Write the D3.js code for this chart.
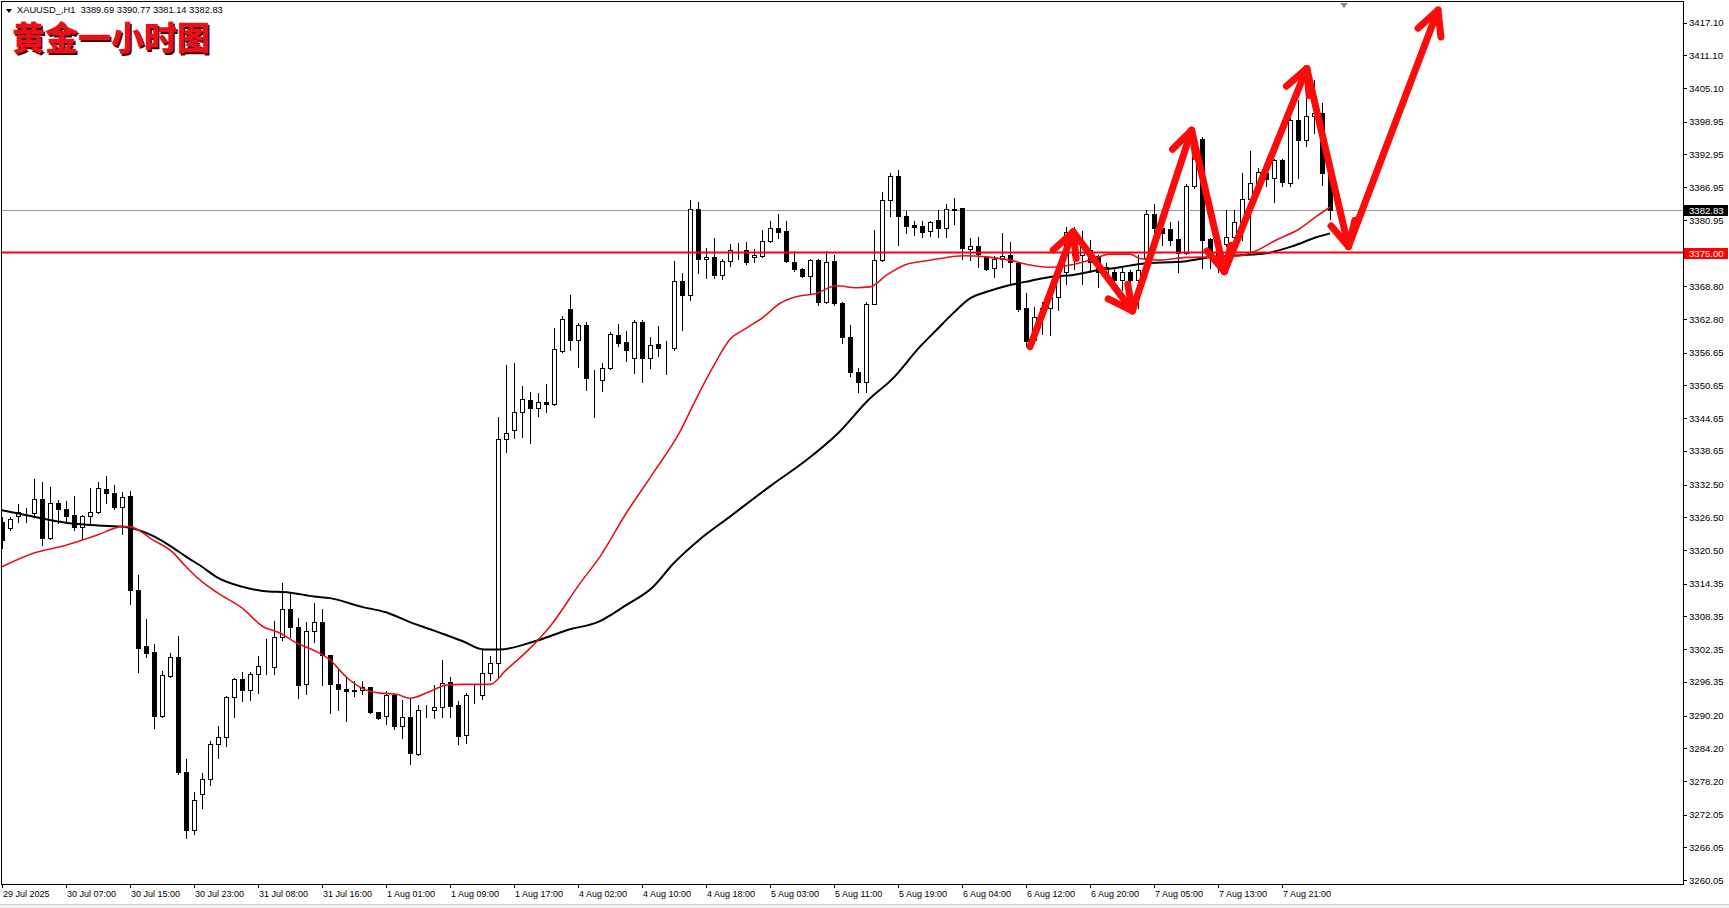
<!DOCTYPE html>
<html><head><meta charset="utf-8">
<script src="https://cdn.jsdelivr.net/npm/d3@7"></script>
<style>body{margin:0;background:#fff;overflow:hidden}svg{display:block}</style>
</head><body>
<svg id="c" width="1729" height="908"></svg>
<script>
// ---------------- DATA ----------------
const candleOpen = [3325.7,3324.6,3326.8,3327.4,3327.2,3329.8,3322.8,3329.1,3328.0,3326.9,
3324.8,3326.8,3327.5,3331.6,3331.0,3328.4,3330.4,3313.2,3302.9,3301.8,
3290.2,3297.5,3300.9,3279.9,3269.2,3275.9,3278.5,3285.0,3286.2,3293.5,
3296.9,3294.8,3297.8,3299.2,3299.0,3304.5,3309.7,3306.4,3295.9,3305.7,
3307.3,3301.2,3295.9,3295.1,3294.7,3294.9,3295.4,3290.8,3290.1,3294.0,
3288.3,3290.0,3283.1,3291.5,3291.3,3291.8,3296.3,3292.1,3286.6,3294.0,
3294.0,3297.9,3299.8,3340.8,3342.4,3345.7,3348.0,3346.5,3347.6,3347.2,
3357.0,3364.6,3358.9,3361.8,3351.8,3351.7,3353.9,3359.9,3358.6,3355.6,
3362.2,3355.6,3358.2,3357.5,3357.5,3369.8,3367.2,3382.9,3373.8,3374.1,
3370.8,3373.4,3375.4,3375.5,3374.1,3374.4,3377.1,3379.4,3378.9,3373.2,
3372.0,3370.7,3373.6,3366.0,3373.4,3365.8,3359.5,3353.1,3351.2,3365.6,
3373.6,3384.7,3389.0,3381.7,3380.0,3379.9,3378.9,3381.0,3379.4,3383.0,
3383.1,3375.7,3376.1,3374.1,3372.1,3373.9,3374.6,3373.1,3364.8,3358.9,
3363.3,3364.8,3366.9,3371.5,3378.6,3374.5,3375.5,3374.4,3371.5,3371.5,
3370.0,3371.5,3370.0,3374.0,3382.0,3379.4,3379.3,3377.5,3375.0,3387.2,
3395.8,3377.5,3375.0,3376.6,3377.8,3380.5,3384.8,3387.7,3389.5,3388.6,
3391.9,3387.8,3399.3,3395.6,3400.0,3400.5,3389.69];
const candleHigh = [3326.5,3326.6,3328.9,3328.2,3333.5,3332.9,3332.0,3329.7,3329.4,3330.4,
3326.9,3331.8,3332.9,3334.1,3332.4,3331.1,3331.4,3315.9,3307.9,3303.3,
3298.4,3301.6,3304.8,3282.2,3276.1,3279.6,3285.5,3288.3,3293.8,3297.0,
3298.1,3298.2,3301.1,3304.2,3307.5,3314.4,3312.7,3308.0,3307.4,3310.8,
3309.7,3301.3,3298.6,3297.4,3296.5,3296.5,3295.5,3290.9,3294.6,3294.2,
3293.1,3293.2,3292.1,3292.1,3295.8,3300.3,3297.2,3292.9,3294.3,3296.0,
3302.5,3301.1,3344.9,3354.4,3354.7,3350.6,3349.4,3349.2,3351.0,3361.1,
3363.4,3367.2,3362.0,3362.2,3353.5,3354.8,3360.5,3361.9,3360.6,3362.6,
3362.6,3359.6,3361.5,3358.7,3373.4,3371.2,3384.7,3384.3,3375.8,3377.6,
3373.8,3376.5,3376.8,3377.0,3375.6,3379.2,3380.8,3382.1,3380.8,3375.3,
3372.1,3373.8,3373.8,3375.3,3374.5,3366.0,3361.7,3353.8,3366.0,3379.2,
3386.0,3389.6,3390.1,3382.6,3380.8,3380.8,3380.8,3382.8,3383.9,3384.9,
3383.2,3377.7,3377.9,3374.2,3374.4,3378.5,3377.0,3373.3,3367.5,3365.0,
3366.0,3368.1,3372.4,3379.7,3379.6,3378.9,3377.3,3374.6,3373.1,3372.4,
3372.4,3371.8,3374.5,3382.8,3383.9,3380.3,3380.5,3380.8,3387.5,3397.0,
3396.1,3377.6,3376.0,3382.8,3382.8,3389.5,3393.5,3390.4,3392.2,3392.2,
3392.1,3399.6,3402.9,3408.5,3406.6,3402.3,3390.77];
const candleLow = [3320.8,3324.2,3325.7,3325.7,3326.9,3321.5,3322.6,3325.4,3325.4,3324.2,
3322.6,3325.1,3327.3,3329.1,3328.1,3323.4,3310.6,3298.1,3300.9,3288.0,
3289.9,3297.3,3279.5,3267.7,3268.5,3273.3,3277.4,3282.5,3284.7,3289.9,
3292.9,3293.0,3294.3,3297.8,3297.8,3304.0,3304.6,3293.4,3294.1,3303.6,
3295.8,3290.7,3291.2,3289.2,3293.7,3294.1,3290.6,3289.5,3288.7,3287.7,
3286.0,3281.3,3282.9,3290.0,3289.7,3290.0,3290.0,3284.9,3285.1,3292.4,
3293.2,3296.7,3297.3,3338.5,3341.1,3341.3,3340.2,3345.1,3345.7,3347.0,
3356.8,3357.1,3354.1,3349.9,3344.8,3349.7,3353.6,3357.9,3355.2,3353.0,
3351.2,3353.8,3356.0,3352.7,3357.1,3360.8,3366.3,3371.2,3370.3,3370.3,
3370.2,3372.5,3373.8,3372.9,3373.3,3374.2,3377.0,3377.6,3373.3,3371.6,
3370.5,3367.5,3365.3,3365.8,3365.4,3358.4,3352.3,3349.5,3349.4,3365.5,
3373.5,3381.6,3376.4,3378.5,3378.2,3377.8,3378.0,3377.8,3377.9,3380.3,
3373.9,3373.6,3372.4,3371.8,3370.5,3372.4,3369.1,3364.2,3357.8,3358.5,
3360.0,3359.9,3364.5,3369.3,3372.0,3369.3,3371.5,3368.7,3370.2,3368.7,
3368.1,3366.0,3364.8,3371.5,3376.4,3376.4,3376.4,3371.5,3374.8,3386.8,
3372.1,3372.1,3371.5,3376.1,3376.0,3377.3,3374.7,3387.1,3387.1,3384.3,
3387.2,3387.1,3388.6,3394.5,3396.8,3387.4,3381.14];
const candleClose = [3322.4,3326.1,3327.4,3327.5,3329.8,3322.8,3329.1,3328.0,3326.8,3324.8,
3326.7,3327.4,3331.8,3331.0,3328.3,3330.2,3313.1,3302.6,3301.7,3290.2,
3297.6,3301.0,3279.9,3269.2,3274.7,3278.5,3285.0,3286.2,3293.5,3296.8,
3294.8,3297.8,3299.2,3299.3,3304.5,3309.7,3306.4,3295.7,3305.7,3307.3,
3301.2,3295.9,3295.0,3294.7,3294.8,3295.5,3290.8,3289.7,3294.0,3288.3,
3289.9,3283.3,3291.3,3291.5,3291.8,3296.2,3292.0,3286.5,3294.0,3294.0,
3297.9,3299.8,3340.8,3341.9,3345.7,3348.2,3346.6,3347.6,3347.2,3357.3,
3362.9,3358.9,3361.7,3352.0,3351.8,3353.8,3360.1,3358.4,3357.1,3362.3,
3355.6,3358.1,3357.5,3357.5,3369.7,3367.2,3382.9,3373.8,3374.1,3370.8,
3373.4,3375.5,3375.5,3373.3,3374.5,3377.1,3379.4,3378.8,3373.4,3372.0,
3370.7,3373.6,3366.0,3373.2,3365.8,3359.5,3353.1,3351.2,3365.6,3373.6,
3384.7,3389.0,3381.7,3379.9,3379.7,3378.8,3380.5,3379.4,3382.9,3382.8,
3375.8,3376.1,3374.7,3372.0,3373.9,3374.3,3373.3,3364.7,3358.7,3363.2,
3364.8,3366.9,3370.6,3378.7,3374.5,3376.5,3373.3,3371.5,3372.3,3369.9,
3371.5,3370.0,3371.8,3382.0,3379.4,3378.6,3377.3,3375.0,3387.2,3395.5,
3377.3,3375.0,3373.6,3377.8,3380.5,3384.8,3387.7,3389.7,3388.5,3391.9,
3388.0,3399.3,3395.6,3400.0,3400.5,3389.5,3382.83];

// red moving average (bar index, price)
const maRedIdx = [0,4,8,12,15,16,17,18.5,21.4,23,25,27,30,32.6,34.75,36.8,38.9,41,43,45,47.25,49.3,51,53.5,55.6,57.6,61,63,66.4,68.5,72.25,74.75,78,81.4,84.75,86.8,88.9,91,93,95.2,97.25,99.3,101.8,104.3,106.8,108.5,110.6,113.1,115.2,117.25,120.2,123.1,126,128.5,131,133.5,136,138.5,141,142.25,144.75,148,151.4,154.75,156.4,159.3,162.25,164.3,166];
const maRedVal = [3317.45,3319.96,3321.4,3323.3,3324.8,3324.8,3324.2,3322.7,3320.0,3317.45,3314.7,3312.6,3309.9,3306.5,3305.3,3303.5,3302.2,3300.4,3297.3,3295.2,3294.3,3294.1,3293.35,3294.6,3295.8,3295.9,3295.9,3298.5,3303.1,3306.5,3314.4,3319.3,3327.2,3334.6,3342.2,3348.3,3354.1,3359.1,3361.1,3363.2,3365.7,3366.9,3367.5,3368.9,3368.55,3368.7,3370.9,3372.85,3373.4,3373.9,3374.4,3374.2,3373.6,3372.7,3372.3,3372.7,3373.6,3374.7,3374.7,3373.9,3373.6,3374.1,3374.2,3374.4,3375.1,3377.3,3379.4,3381.6,3383.3];
// black moving average (bar index, price)
const maBlackIdx = [0,4,8,12,15,17,19,21.4,23,25,27,30,32.6,36,39,41,45,48,51,53.5,55.6,57.6,60.2,62.25,66.4,71,74.3,78,81.4,83.9,87.25,90.7,96.2,100.4,104.5,108.3,111.4,114.75,116.8,118.9,121,123.1,126,128.5,131.4,133.9,136.8,139.75,142.25,148,151.4,154.75,158,161.4,164.3,166];
const maBlackVal = [3327.8,3326.6,3325.5,3325.0,3324.8,3324.2,3323.0,3320.9,3319.3,3317.45,3315.4,3313.8,3313.0,3312.7,3312.0,3311.7,3310.1,3309.1,3307.3,3306.0,3304.9,3303.8,3302.3,3302.3,3303.7,3306.0,3307.2,3310.4,3313.8,3318.0,3322.5,3326.3,3332.4,3336.8,3341.9,3348.0,3352.0,3357.75,3360.8,3363.9,3366.6,3367.8,3369.05,3369.8,3370.6,3370.9,3371.7,3372.3,3372.9,3373.4,3374.2,3374.5,3374.85,3376.2,3377.8,3378.5];

// hand-drawn red arrow path (bar index, price)
const arrowIdx = [128.5,133.9,141.3,148.7,152.8,163.1,168.3,179.5];
const arrowPrice = [3357.75,3378.8,3364.3,3397.4,3371.5,3408.7,3376.1,3419.4];

const levelPrice = 3375.00;
const bidPrice = 3382.83;

const yTickValues = [3417.10,3411.10,3405.10,3398.95,3392.95,3386.95,3380.95,3368.80,3362.80,3356.65,3350.65,3344.65,3338.65,3332.50,3326.50,3320.50,3314.35,3308.35,3302.35,3296.35,3290.20,3284.20,3278.20,3272.05,3266.05,3260.05];
const xTickIdx = [0,8,16,24,32,40,48,56,64,72,80,88,96,104,112,120,128,136,144,152,160];
const xTickLabels = ["29 Jul 2025","30 Jul 07:00","30 Jul 15:00","30 Jul 23:00","31 Jul 08:00","31 Jul 16:00","1 Aug 01:00","1 Aug 09:00","1 Aug 17:00","4 Aug 02:00","4 Aug 10:00","4 Aug 18:00","5 Aug 03:00","5 Aug 11:00","5 Aug 19:00","6 Aug 04:00","6 Aug 12:00","6 Aug 20:00","7 Aug 05:00","7 Aug 13:00","7 Aug 21:00"];

const headerText = "XAUUSD_,H1  3389.69 3390.77 3381.14 3382.83";
const titleText = "黄金一小时图";

// ---------------- CHART ----------------
const W = 1729, H = 908;
const PL = 2, PR = 1683, PT = 2, PB = 884;
const svg = d3.select("#c");
svg.append("rect").attr("width", W).attr("height", H).attr("fill", "#fff");

const x = d3.scaleLinear().domain([0, (PR - PL) / 8]).range([PL, PR]);
const y = d3.scaleLinear().domain([3259.34, 3420.88]).range([PB, PT]);
const px = v => Math.round(v);

svg.append("defs").append("clipPath").attr("id", "plot")
  .append("rect").attr("x", PL).attr("y", PT).attr("width", PR - PL).attr("height", PB - PT);
const g = svg.append("g").attr("clip-path", "url(#plot)");

// bid line
g.append("line").attr("x1", PL).attr("x2", PR)
  .attr("y1", px(y(bidPrice)) + 0.5).attr("y2", px(y(bidPrice)) + 0.5)
  .attr("stroke", "#9a9a9a").attr("stroke-width", 1);

// candles
const idx = d3.range(candleOpen.length);
const cg = g.append("g");
cg.selectAll("line.wick").data(idx).join("line").attr("class", "wick")
  .attr("x1", i => px(x(i)) + 0.5).attr("x2", i => px(x(i)) + 0.5)
  .attr("y1", i => px(y(candleHigh[i]))).attr("y2", i => px(y(candleLow[i])) + 1)
  .attr("stroke", "#000").attr("stroke-width", 1);
cg.selectAll("rect.body").data(idx).join("rect").attr("class", "body")
  .attr("x", i => px(x(i)) - 1.5)
  .attr("y", i => px(y(Math.max(candleOpen[i], candleClose[i]))) + 0.5)
  .attr("width", 4)
  .attr("height", i => Math.max(0, px(y(Math.min(candleOpen[i], candleClose[i]))) - px(y(Math.max(candleOpen[i], candleClose[i])))))
  .attr("fill", i => candleClose[i] > candleOpen[i] ? "#fff" : "#000")
  .attr("stroke", "#000").attr("stroke-width", 1);

// MAs
const line = d3.line().curve(d3.curveMonotoneX);
g.append("path").attr("d", line(maBlackIdx.map((d, k) => [x(d), y(maBlackVal[k])])))
  .attr("fill", "none").attr("stroke", "#000").attr("stroke-width", 2);
g.append("path").attr("d", line(maRedIdx.map((d, k) => [x(d), y(maRedVal[k])])))
  .attr("fill", "none").attr("stroke", "#e0141e").attr("stroke-width", 1.6);

// level line
g.append("line").attr("x1", PL).attr("x2", PR)
  .attr("y1", y(levelPrice)).attr("y2", y(levelPrice))
  .attr("stroke", "#ff0000").attr("stroke-width", 2);

// arrows
const ag = g.append("g").attr("stroke", "#ff0a0a").attr("stroke-width", 7)
  .attr("fill", "none").attr("stroke-linecap", "round").attr("stroke-linejoin", "round");
for (let k = 0; k < arrowIdx.length - 1; k++) {
  const x0 = x(arrowIdx[k]), y0 = y(arrowPrice[k]);
  const x1 = x(arrowIdx[k + 1]), y1 = y(arrowPrice[k + 1]);
  ag.append("line").attr("x1", x0).attr("y1", y0).attr("x2", x1).attr("y2", y1);
  const ang = Math.atan2(y1 - y0, x1 - x0), L = 27, a = 0.47;
  const b1 = [x1 - L * Math.cos(ang - a), y1 - L * Math.sin(ang - a)];
  const b2 = [x1 - L * Math.cos(ang + a), y1 - L * Math.sin(ang + a)];
  ag.append("path").attr("d", `M${b1[0]},${b1[1]}L${x1},${y1}L${b2[0]},${b2[1]}`);
}

// chart shift marker
svg.append("path").attr("d", `M${x(167.75) - 4},${PT + 1}L${x(167.75) + 4},${PT + 1}L${x(167.75)},${PT + 6}Z`).attr("fill", "#808890");

// frame
svg.append("rect").attr("x", PL - 0.5).attr("y", PT - 0.5).attr("width", PR - PL + 1).attr("height", PB - PT + 1)
  .attr("fill", "none").attr("stroke", "#000").attr("stroke-width", 1);

// right axis
const fontAxis = "'Liberation Sans', Arial, sans-serif";
const ra = svg.append("g");
ra.selectAll("line").data(yTickValues).join("line")
  .attr("x1", PR).attr("x2", PR + 4)
  .attr("y1", d => px(y(d)) + 0.5).attr("y2", d => px(y(d)) + 0.5)
  .attr("stroke", "#000");
ra.selectAll("text").data(yTickValues).join("text")
  .attr("x", PR + 6).attr("y", d => y(d) + 3.5)
  .attr("font-family", fontAxis).attr("font-size", 9.6).attr("fill", "#000")
  .text(d => d.toFixed(2));

function priceTag(p, bg) {
  const yy = px(y(p));
  svg.append("rect").attr("x", PR + 1).attr("y", yy - 5).attr("width", 44).attr("height", 11).attr("fill", bg);
  svg.append("text").attr("x", PR + 6).attr("y", yy + 4)
    .attr("font-family", fontAxis).attr("font-size", 9.6).attr("fill", "#fff").text(p.toFixed(2));
}
priceTag(bidPrice, "#000");
priceTag(levelPrice, "#ff0000");

// bottom axis
const ba = svg.append("g");
ba.selectAll("line").data(xTickIdx).join("line")
  .attr("x1", i => px(x(i)) + 0.5).attr("x2", i => px(x(i)) + 0.5)
  .attr("y1", PB).attr("y2", PB + 4).attr("stroke", "#000");
ba.selectAll("text").data(xTickIdx).join("text")
  .attr("x", i => px(x(i)) + 1).attr("y", PB + 13)
  .attr("font-family", fontAxis).attr("font-size", 9).attr("fill", "#000")
  .text((i, k) => xTickLabels[k]);

// window bottom strip
svg.append("rect").attr("x", 0).attr("y", 904).attr("width", W).attr("height", 4).attr("fill", "#f0f0f0");
svg.append("line").attr("x1", 0).attr("x2", W).attr("y1", 904.5).attr("y2", 904.5).attr("stroke", "#d0d0d0");

// header
svg.append("path").attr("d", "M6,9L12,9L9,13Z").attr("fill", "#000");
svg.append("text").attr("x", 17).attr("y", 13).attr("font-family", fontAxis).attr("font-size", 9.3)
  .attr("fill", "#000").attr("xml:space", "preserve").style("white-space", "pre").text(headerText);

// Chinese title with shadow
const tf = "'Noto Sans CJK SC', sans-serif";
svg.append("text").attr("x", 13.5).attr("y", 51.5).attr("font-family", tf).attr("font-weight", 900)
  .attr("font-size", 33).attr("fill", "#3a0000").text(titleText);
svg.append("text").attr("x", 12).attr("y", 50).attr("font-family", tf).attr("font-weight", 900)
  .attr("font-size", 33).attr("fill", "#e8101a").text(titleText);
</script>
</body></html>
